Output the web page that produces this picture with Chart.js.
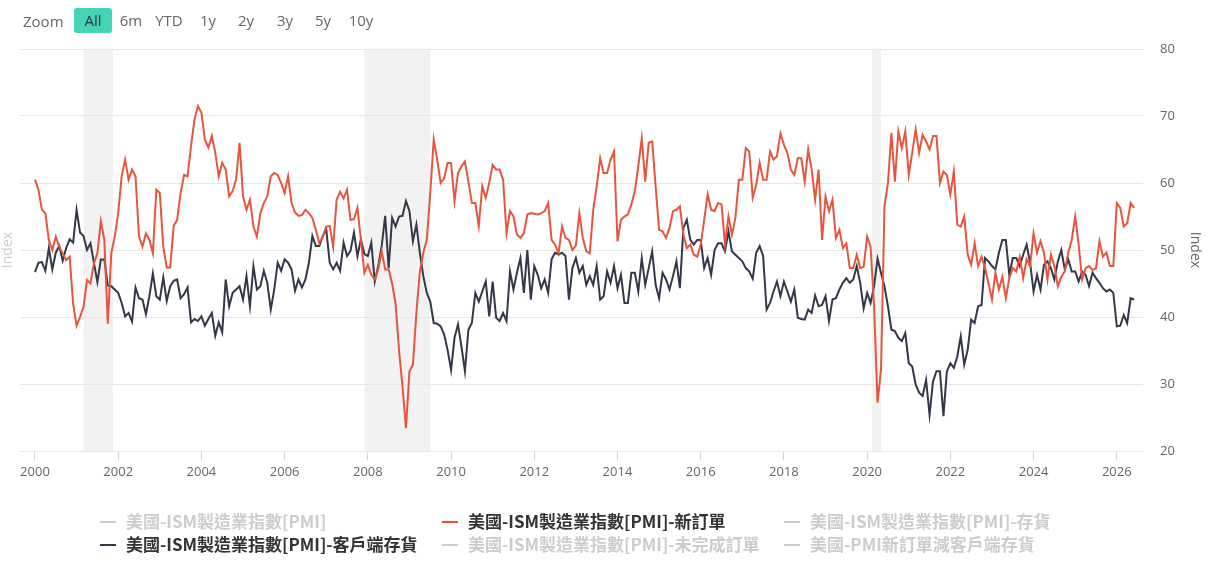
<!DOCTYPE html>
<html lang="zh-Hant">
<head>
<meta charset="utf-8">
<title>美國-ISM製造業指數[PMI]</title>
<script src="https://cdn.jsdelivr.net/npm/chart.js@4.4.1/dist/chart.umd.min.js"></script>
<style>
    html, body {
        margin: 0;
        padding: 0;
        background: #ffffff;
    }

    body {
        position: relative;
        width: 1224px;
        height: 571px;
        overflow: hidden;
        font-family: "Open Sans", "Noto Sans CJK TC", sans-serif;
    }

    #chartBox {
        position: absolute;
        left: 0;
        top: 0;
        width: 1224px;
        height: 571px;
    }

    .zoomLabel {
        position: absolute;
        left: 23px;
        top: 9px;
        font-size: 15px;
        line-height: 25px;
        color: #666666;
    }

    .rangeBtn {
        position: absolute;
        top: 8px;
        width: 38px;
        height: 25px;
        line-height: 25px;
        text-align: center;
        font-size: 15px;
        color: #666666;
        border-radius: 3px;
    }

    .rangeBtn.active {
        background: #43d5b5;
        color: #333333;
    }

    .legendItem {
        position: absolute;
        height: 22px;
        line-height: 22px;
        font-family: "Noto Sans CJK TC", "Open Sans", sans-serif;
        font-weight: bold;
        font-size: 17px;
        white-space: nowrap;
    }

    .legendItem .sym {
        display: inline-block;
        width: 16px;
        height: 2px;
        margin-right: 10px;
        vertical-align: middle;
        position: relative;
        top: -1px;
    }
</style>
</head>
<body>

<div id="chartBox">
    <canvas id="pmiChart"></canvas>
</div>

<div class="zoomLabel">Zoom</div>
<div id="rangeButtons"></div>
<div id="legendBox"></div>

<script>
// ======================================================
// Data (monthly, Jan 2000 - Jun 2026)
// ======================================================

const startYear = 2000;

const newOrders = [
    60.5, 59, 56, 55.5, 51.5, 50, 52, 50.5, 49.5, 48.5, 49, 42,            // 2000
    38.7, 40, 41.5, 45.5, 45, 48, 49.5, 54.3, 51.5, 39, 49.5, 52,          // 2001
    55.5, 61, 63.5, 60.5, 62, 61, 52, 50.5, 52.5, 51.5, 49.5, 59,          // 2002
    58.5, 50.5, 47.4, 47.4, 53.6, 54.5, 58.5, 61.2, 61, 65.5, 69.5, 71.5,  // 2003
    70.5, 66.5, 65.3, 67, 64.5, 61, 63, 62, 58, 58.8, 60.5, 66,            // 2004
    58, 56, 57.5, 53.5, 52, 55.5, 57, 58, 61, 61.5, 61.2, 60,              // 2005
    58.5, 61, 57, 55.6, 55.1, 55.2, 56, 55.5, 54.8, 53, 51, 52,            // 2006
    53.5, 53.6, 50.5, 57.5, 58.7, 57.7, 59, 54.5, 54.6, 56.3, 51.5, 46.6,  // 2007
    47.8, 46.3, 45.6, 47.1, 49.8, 47.1, 47.1, 45, 42, 35, 29.6, 23.4,      // 2008
    31.9, 32.9, 40.6, 46.8, 49.6, 51.5, 58.5, 66.5, 63.5, 60, 60.7, 63,    // 2009
    63, 57.3, 61.5, 62.5, 63.2, 60.2, 57, 57, 53.6, 59.5, 57.8, 60,        // 2010
    62.7, 62, 62, 60.5, 52.5, 55.8, 55, 52.3, 51.8, 52.5, 55.3, 55.5,      // 2011
    55.4, 55.3, 55.5, 55.8, 57, 51.5, 50.8, 49.5, 53.5, 51.8, 51.5, 50,    // 2012
    50.7, 55.5, 51.8, 49.8, 49.5, 56, 59.5, 63.7, 61.5, 61.5, 63.5, 64.7,  // 2013
    51.3, 54.5, 55, 55.3, 56.8, 58.8, 62.5, 66.7, 60.2, 66, 66.2, 59.5,    // 2014
    53, 52.8, 51.8, 53.3, 55.8, 56, 56.5, 52.3, 50.3, 50.8, 49.3, 49,      // 2015
    50.8, 54.5, 58.3, 56, 55.8, 57, 56.8, 50.8, 55, 52.3, 54.8, 60.5,      // 2016
    60.5, 65.2, 64.7, 57.8, 59.7, 63, 60.5, 60.5, 64.7, 63.5, 64, 67.4,    // 2017
    65.7, 64.5, 62, 61.2, 63.7, 63.7, 60.2, 65, 62, 57.5, 62, 51.5,        // 2018
    58, 55.8, 57.5, 51.8, 53, 50.3, 51, 47.3, 47.3, 49.3, 47.3, 47.5,      // 2019
    52, 50.5, 41.6, 27.2, 32.1, 56.5, 60, 67.5, 60.2, 67.7, 65.2, 67.7,    // 2020
    61.2, 64.5, 68, 64.5, 67.2, 66.2, 65, 67, 67, 60, 61.7, 61.2,          // 2021
    58.3, 61.7, 53.8, 53.5, 55, 49.3, 47.8, 51, 47.6, 49, 47.3, 45,        // 2022
    42.6, 46.6, 44.1, 46, 42.8, 45.8, 47.3, 46.8, 49, 45.8, 48.6, 47.6,    // 2023
    52.5, 49.6, 51.3, 49.6, 45.6, 49.3, 47.6, 44.6, 46, 46.8, 49.6, 51.5,  // 2024
    55, 50.8, 45.6, 47.3, 47.6, 47, 47.3, 51.3, 49, 49.6, 47.6, 47.6,      // 2025
    57, 56.3, 53.5, 54, 57, 56.3                                            // 2026
];

const customerInventories = [
    46.7, 48.1, 48.2, 46.9, 50.3, 47.1, 49.6, 50.6, 48.4, 50.3, 51.6, 51.1,  // 2000
    56, 52.6, 52.1, 50, 51, 48.1, 45.2, 48.6, 48.6, 44.7, 44.6, 44.1,        // 2001
    43.6, 42.1, 40.1, 40.6, 39.3, 44.4, 42.8, 42.6, 40.4, 43.1, 46.5, 43.1,  // 2002
    42.6, 45.9, 42.4, 44.6, 45.4, 45.6, 42.8, 43.4, 44.4, 39.2, 39.7, 39.4,  // 2003
    40.1, 38.7, 39.7, 40.6, 37.2, 39.2, 37.7, 45.6, 41.6, 43.6, 44.1, 44.6,  // 2004
    42.6, 46.1, 41.6, 47.6, 44.1, 44.6, 46.9, 45.1, 41.1, 44.1, 48.1, 46.9,  // 2005
    48.6, 48.1, 47.1, 43.9, 45.6, 44.4, 45.6, 48.1, 52.1, 50.6, 50.6, 52.1,  // 2006
    53.1, 48.1, 47.1, 48.1, 46.9, 51.1, 49.1, 49.9, 52.6, 49.1, 51.6, 49.4,  // 2007
    49.1, 51.1, 45.3, 47.6, 50.6, 55.1, 47.3, 54.8, 53.5, 55, 55.1, 57.3,    // 2008
    55.8, 51.3, 53.8, 49.6, 46.1, 43.6, 42.3, 39.1, 39, 38.6, 37.4, 35.1,    // 2009
    32.1, 36.9, 38.9, 35.6, 31.9, 38.1, 39.1, 43.6, 42.3, 43.8, 45.3, 40.1,  // 2010
    45.3, 39.9, 39.4, 40.6, 39.4, 46.8, 44.1, 46.6, 48.8, 43.6, 50, 42.6,    // 2011
    47.6, 46.3, 44.3, 45.6, 43.6, 48.6, 49.6, 49.3, 49.6, 49.1, 42.6, 47.3,  // 2012
    48.8, 46.6, 47.6, 44.8, 46.1, 44.8, 47.6, 42.6, 43.1, 46.8, 45.1, 47.6,  // 2013
    44.3, 46.3, 42.1, 42.1, 46.6, 46.6, 43.8, 48.8, 44.8, 47.3, 49.8, 44.8,  // 2014
    42.8, 46.6, 45.6, 44.1, 46.1, 48.3, 44.3, 53.3, 54.5, 51.5, 50.8, 51.5,  // 2015
    51.5, 47.3, 48.8, 46.3, 50, 51, 51, 49.8, 52.8, 49.8, 49.3, 48.8,        // 2016
    48.3, 47.3, 46.8, 45.7, 49.6, 50.6, 49.1, 41.1, 42.1, 43.8, 45.3, 43.1,  // 2017
    45.3, 43.8, 42.3, 44.1, 39.9, 39.7, 39.6, 41.1, 40.6, 43.2, 41.6, 41.8,  // 2018
    43.1, 39.4, 42.6, 42.8, 44.1, 45.1, 45.8, 45.1, 45.6, 47.6, 45.1, 41.3,  // 2019
    43.6, 42.1, 44.6, 48.7, 46.6, 44.6, 41.6, 38.1, 37.9, 36.9, 36.4, 37.6,  // 2020
    33.1, 32.6, 29.9, 28.7, 28.2, 30.6, 25.4, 30.4, 31.9, 31.9, 25.2, 31.9,  // 2021
    33.1, 32.4, 34.1, 37.1, 32.9, 35.1, 39.6, 39.1, 41.6, 41.8, 48.8, 48.3,  // 2022
    47.6, 47.1, 49.6, 51.5, 51.5, 46.3, 48.8, 48.8, 47.6, 49.3, 50.8, 48.1,  // 2023
    43.8, 46.3, 44.1, 47.8, 48.3, 47.3, 45.6, 48.3, 50, 47.1, 48.6, 46.8,    // 2024
    46.8, 45.3, 46.8, 46.3, 44.6, 46.6, 45.8, 45.1, 44.3, 43.8, 44.1, 43.6,  // 2025
    38.6, 38.7, 40.3, 39.1, 42.8, 42.6                                        // 2026
];

// recession periods (decimal years)
const recessions = [
    [2001.167, 2001.875],
    [2007.917, 2009.5],
    [2020.12, 2020.333]
];

const xTicks = [2000, 2002, 2004, 2006, 2008, 2010, 2012, 2014, 2016, 2018, 2020, 2022, 2024, 2026];

const yTicks = [20, 30, 40, 50, 60, 70, 80];

const rangeLabels = ["All", "6m", "YTD", "1y", "2y", "3y", "5y", "10y"];

const legendNames = [
    "美國-ISM製造業指數[PMI]",
    "美國-ISM製造業指數[PMI]-新訂單",
    "美國-ISM製造業指數[PMI]-存貨",
    "美國-ISM製造業指數[PMI]-客戶端存貨",
    "美國-ISM製造業指數[PMI]-未完成訂單",
    "美國-PMI新訂單減客戶端存貨"
];

// ======================================================
// Styles
// ======================================================

const RED = "#e8553e";
const NAVY = "#323849";
const MUTED = "#cccccc";

const legendStyle = [
    { color: MUTED, text: MUTED, left: 100, top: 510 },
    { color: RED, text: "#333333", left: 442, top: 510 },
    { color: MUTED, text: MUTED, left: 784, top: 510 },
    { color: NAVY, text: "#333333", left: 100, top: 533 },
    { color: MUTED, text: MUTED, left: 442, top: 533 },
    { color: MUTED, text: MUTED, left: 784, top: 533 }
];

const buttonCenters = [93, 131, 169, 208, 246, 285, 323, 361];

// ======================================================
// Toolbar + Legend (HTML)
// ======================================================

function buildToolbar() {

    const box = document.getElementById("rangeButtons");

    rangeLabels.forEach((label, i) => {

        const btn = document.createElement("div");

        btn.className = "rangeBtn" + (i === 0 ? " active" : "");
        btn.style.left = (buttonCenters[i] - 19) + "px";
        btn.textContent = label;

        box.appendChild(btn);
    });
}

function buildLegend() {

    const box = document.getElementById("legendBox");

    legendNames.forEach((name, i) => {

        const st = legendStyle[i];

        const item = document.createElement("div");
        item.className = "legendItem";
        item.style.left = st.left + "px";
        item.style.top = st.top + "px";
        item.style.color = st.text;

        const sym = document.createElement("span");
        sym.className = "sym";
        sym.style.background = st.color;

        item.appendChild(sym);
        item.appendChild(document.createTextNode(name));

        box.appendChild(item);
    });
}

// ======================================================
// Recession bands plugin
// ======================================================

const recessionBands = {

    id: "recessionBands",

    beforeDraw(chart) {

        const { ctx, chartArea, scales } = chart;

        ctx.save();
        ctx.fillStyle = "#f2f2f2";

        recessions.forEach(([from, to]) => {

            const x1 = scales.x.getPixelForValue(from);
            const x2 = scales.x.getPixelForValue(to);

            ctx.fillRect(x1, chartArea.top, x2 - x1, chartArea.bottom - chartArea.top);
        });

        ctx.restore();
    }
};

// ======================================================
// Chart
// ======================================================

function toPoints(values) {

    return values.map((v, i) => ({
        x: startYear + i / 12,
        y: v
    }));
}

function createChart() {

    Chart.defaults.font.family = '"Open Sans", "Noto Sans CJK TC", sans-serif';

    new Chart(
        document.getElementById("pmiChart"),
        {
            type: "line",

            data: {
                datasets: [
                    {
                        label: legendNames[1],
                        data: toPoints(newOrders),
                        borderColor: RED,
                        borderWidth: 2,
                        pointRadius: 0,
                        tension: 0,
                        yAxisID: "y"
                    },
                    {
                        label: legendNames[3],
                        data: toPoints(customerInventories),
                        borderColor: NAVY,
                        borderWidth: 2,
                        pointRadius: 0,
                        tension: 0,
                        yAxisID: "y"
                    }
                ]
            },

            options: {

                responsive: true,
                maintainAspectRatio: false,
                animation: false,

                layout: {
                    padding: { top: 49, left: 0, right: 0, bottom: 0 }
                },

                plugins: {
                    legend: { display: false },
                    tooltip: { enabled: false }
                },

                scales: {

                    x: {
                        type: "linear",
                        min: 1999.64,
                        max: 2026.63,
                        afterBuildTicks(scale) {
                            scale.ticks = xTicks.map(v => ({ value: v }));
                        },
                        afterFit(scale) {
                            scale.height = 120;
                        },
                        ticks: {
                            color: "#666666",
                            font: { size: 13 },
                            padding: 4,
                            autoSkip: false,
                            maxRotation: 0,
                            callback: v => String(v)
                        },
                        grid: {
                            drawOnChartArea: false,
                            drawTicks: true,
                            tickLength: 9,
                            color: "#ccd6eb"
                        },
                        border: { display: false }
                    },

                    yLeft: {
                        position: "left",
                        min: 20,
                        max: 80,
                        afterFit(scale) {
                            scale.width = 20;
                        },
                        ticks: { display: false },
                        grid: { display: false },
                        border: { display: false },
                        title: {
                            display: true,
                            text: "Index",
                            color: "#cccccc",
                            font: { size: 14 },
                            padding: { top: 0, bottom: 0 }
                        }
                    },

                    y: {
                        position: "right",
                        min: 20,
                        max: 80,
                        afterBuildTicks(scale) {
                            scale.ticks = yTicks.map(v => ({ value: v }));
                        },
                        afterFit(scale) {
                            scale.width = 81;
                        },
                        ticks: {
                            color: "#666666",
                            font: { size: 13 },
                            padding: 17
                        },
                        grid: {
                            color: "#e6e6e6",
                            drawTicks: false
                        },
                        border: { display: false },
                        title: {
                            display: true,
                            text: "Index",
                            color: "#666666",
                            font: { size: 14 },
                            padding: { top: 21, bottom: 0 }
                        }
                    }
                }
            },

            plugins: [recessionBands]
        }
    );
}

// ======================================================

buildToolbar();
buildLegend();
createChart();
</script>
</body>
</html>
